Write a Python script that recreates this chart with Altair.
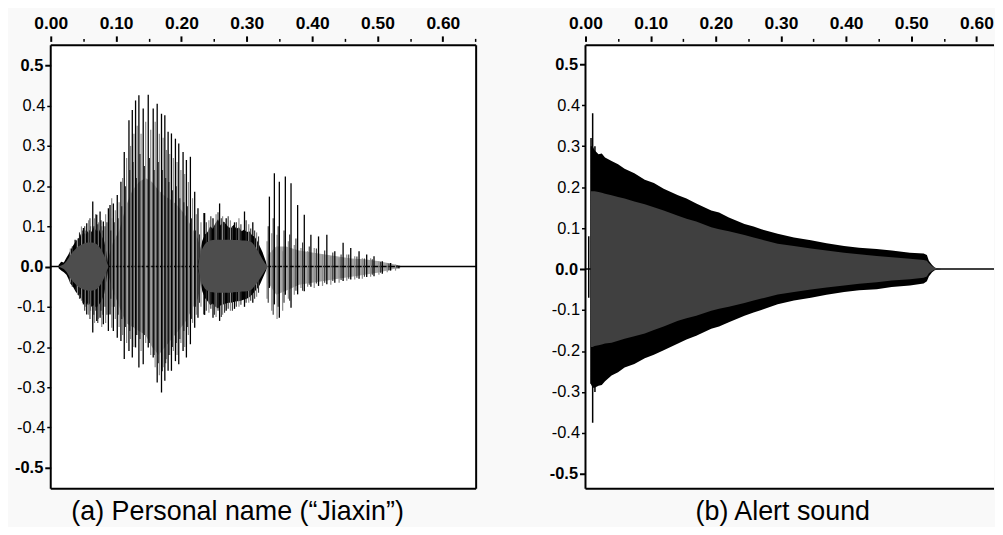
import altair as alt
import pandas as pd

FONT = "Liberation Sans"

# ---------------- Panel (a): personal name "Jiaxin" ----------------
# fricative blob 1 ("J")
B1_T = [0.012, 0.016, 0.020, 0.024, 0.027, 0.030, 0.034, 0.038, 0.042, 0.046, 0.050,
        0.054, 0.058, 0.062, 0.066, 0.070, 0.074, 0.078, 0.082, 0.085, 0.088]
B1_OUT_HI = [0.004, 0.012, 0.010, 0.022, 0.030, 0.040, 0.052, 0.062, 0.070, 0.076, 0.084,
             0.080, 0.092, 0.086, 0.098, 0.088, 0.092, 0.076, 0.062, 0.036, 0.006]
B1_OUT_LO = [-0.004, -0.010, -0.014, -0.020, -0.030, -0.042, -0.050, -0.062, -0.070, -0.080, -0.086,
             -0.094, -0.090, -0.100, -0.096, -0.102, -0.094, -0.084, -0.066, -0.036, -0.006]
B1_IN_HI = [0.000, 0.003, 0.006, 0.013, 0.021, 0.029, 0.037, 0.044, 0.050, 0.054, 0.057,
            0.059, 0.060, 0.060, 0.059, 0.056, 0.050, 0.040, 0.027, 0.013, 0.002]
B1_IN_LO = [0.000, -0.003, -0.006, -0.013, -0.021, -0.029, -0.037, -0.044, -0.050, -0.054, -0.057,
            -0.059, -0.060, -0.060, -0.059, -0.056, -0.050, -0.040, -0.027, -0.013, -0.002]

# fricative blob 3 ("x")
B3_T = [0.226, 0.229, 0.232, 0.236, 0.240, 0.244, 0.248, 0.252, 0.256, 0.260, 0.264, 0.268, 0.272, 0.276,
        0.280, 0.284, 0.288, 0.292, 0.296, 0.300, 0.304, 0.308, 0.312, 0.316, 0.320, 0.324, 0.328, 0.331]
B3_OUT_HI = [0.010, 0.045, 0.065, 0.080, 0.086, 0.100, 0.094, 0.108, 0.118, 0.102, 0.112, 0.106, 0.098, 0.096,
             0.104, 0.094, 0.098, 0.088, 0.092, 0.086, 0.088, 0.078, 0.074, 0.064, 0.050, 0.036, 0.018, 0.004]
B3_OUT_LO = [-0.010, -0.040, -0.062, -0.078, -0.086, -0.096, -0.092, -0.100, -0.104, -0.096, -0.094, -0.092, -0.090, -0.090,
             -0.088, -0.086, -0.086, -0.084, -0.082, -0.080, -0.076, -0.070, -0.062, -0.055, -0.045, -0.030, -0.015, -0.004]
B3_IN_HI = [0.005, 0.030, 0.045, 0.056, 0.062, 0.065, 0.066, 0.067, 0.067, 0.067, 0.067, 0.067, 0.067, 0.067,
            0.066, 0.066, 0.066, 0.065, 0.065, 0.064, 0.063, 0.060, 0.052, 0.042, 0.030, 0.018, 0.008, 0.002]
B3_IN_LO = [-0.005, -0.028, -0.044, -0.055, -0.060, -0.063, -0.064, -0.065, -0.065, -0.065, -0.065, -0.065, -0.065, -0.065,
            -0.064, -0.063, -0.063, -0.062, -0.062, -0.061, -0.060, -0.056, -0.048, -0.040, -0.030, -0.020, -0.010, -0.003]

# dense-oscillation core of the voiced parts ("ia" and "in")
CORE_SEG = ["v1"] * 16 + ["v2"] * 12
CORE_T = [0.088, 0.095, 0.105, 0.115, 0.125, 0.135, 0.145, 0.155, 0.165, 0.175, 0.185, 0.195, 0.205, 0.215, 0.225, 0.232,
          0.333, 0.345, 0.360, 0.380, 0.400, 0.420, 0.440, 0.460, 0.480, 0.500, 0.520, 0.535]
CORE_HI = [0.020, 0.060, 0.090, 0.150, 0.190, 0.210, 0.220, 0.210, 0.190, 0.175, 0.165, 0.150, 0.130, 0.100, 0.070, 0.030,
           0.030, 0.050, 0.050, 0.040, 0.035, 0.030, 0.025, 0.020, 0.018, 0.014, 0.008, 0.002]
CORE_LO = [-0.020, -0.060, -0.100, -0.140, -0.150, -0.160, -0.170, -0.200, -0.220, -0.200, -0.180, -0.160, -0.140, -0.110, -0.080, -0.030,
           -0.040, -0.070, -0.060, -0.045, -0.040, -0.035, -0.030, -0.025, -0.020, -0.015, -0.008, -0.002]

# black pitch spikes (time, upper peak, lower peak)
A_BLACK_T = [0.0373, 0.0450, 0.0500, 0.0551, 0.0643, 0.0704, 0.0755, 0.0805, 0.0882,
             0.0907, 0.0958, 0.1018, 0.1074, 0.1125, 0.1197, 0.1248, 0.1298, 0.1349, 0.1415,
             0.1492, 0.1568, 0.1629, 0.1695, 0.1746, 0.1796, 0.1847, 0.1908, 0.1959, 0.2025,
             0.2076, 0.2137, 0.2203, 0.2253, 0.2345,
             0.2355, 0.2483, 0.2584, 0.2685, 0.2812, 0.2965, 0.3092,
             0.3346, 0.3422, 0.3498, 0.3590, 0.3677, 0.3778, 0.3880, 0.3981, 0.4098, 0.4225,
             0.4347, 0.4474, 0.4591, 0.4718, 0.4835, 0.4947, 0.5074, 0.5201, 0.5328]
A_BLACK_HI = [0.067, 0.080, 0.096, 0.108, 0.162, 0.129, 0.137, 0.112, 0.145,
              0.153, 0.157, 0.178, 0.211, 0.285, 0.364, 0.389, 0.413, 0.426, 0.393,
              0.427, 0.393, 0.405, 0.380, 0.376, 0.335, 0.331, 0.318, 0.306, 0.285,
              0.265, 0.273, 0.186, 0.145, 0.133,
              0.133, 0.120, 0.157, 0.120, 0.110, 0.137, 0.110,
              0.174, 0.232, 0.211, 0.224, 0.207, 0.153, 0.129, 0.079, 0.075, 0.079,
              0.038, 0.059, 0.046, 0.038, 0.030, 0.026, 0.013, 0.009, 0.002]
A_BLACK_LO = [-0.052, -0.069, -0.094, -0.119, -0.164, -0.135, -0.127, -0.143, -0.160,
              -0.119, -0.160, -0.177, -0.185, -0.230, -0.210, -0.226, -0.201, -0.251, -0.243,
              -0.201, -0.226, -0.288, -0.313, -0.284, -0.259, -0.259, -0.235, -0.243, -0.210,
              -0.226, -0.193, -0.152, -0.127, -0.119,
              -0.120, -0.127, -0.135, -0.110, -0.105, -0.100, -0.090,
              -0.053, -0.094, -0.127, -0.070, -0.102, -0.069, -0.061, -0.050, -0.048, -0.044,
              -0.040, -0.036, -0.032, -0.030, -0.026, -0.024, -0.018, -0.010, -0.005]

# dark in-between oscillations
A_DARK_T = [0.033, 0.039, 0.044, 0.049, 0.052, 0.057, 0.060, 0.066, 0.069, 0.072, 0.077, 0.080, 0.083, 0.086,
            0.0920, 0.0972, 0.1032, 0.1087, 0.1143, 0.1210, 0.1261, 0.1311, 0.1366, 0.1434, 0.1511, 0.1583,
            0.1646, 0.1708, 0.1759, 0.1809, 0.1862, 0.1921, 0.1976, 0.2038, 0.2091, 0.2154, 0.2216, 0.2276,
            0.2380, 0.2450, 0.2505, 0.2560, 0.2610, 0.2660, 0.2715, 0.2780, 0.2840, 0.2910, 0.2990, 0.3060,
            0.3120, 0.3180,
            0.3328, 0.3404, 0.3480, 0.3570, 0.3656, 0.3752, 0.3854, 0.3956, 0.4065, 0.4192, 0.4316, 0.4443,
            0.4560, 0.4685, 0.4800, 0.4921, 0.5048, 0.5175, 0.5300]
A_DARK_HI = [0.050, 0.065, 0.085, 0.090, 0.100, 0.085, 0.120, 0.100, 0.130, 0.105, 0.115, 0.090, 0.100, 0.110,
             0.090, 0.110, 0.120, 0.150, 0.200, 0.240, 0.260, 0.220, 0.280, 0.250, 0.270, 0.240,
             0.260, 0.240, 0.220, 0.210, 0.190, 0.200, 0.170, 0.160, 0.150, 0.120, 0.090, 0.080,
             0.110, 0.125, 0.100, 0.135, 0.120, 0.110, 0.125, 0.100, 0.110, 0.105, 0.115, 0.095,
             0.090, 0.075,
             0.100, 0.120, 0.100, 0.090, 0.080, 0.070, 0.060, 0.050, 0.045, 0.040, 0.035, 0.030,
             0.030, 0.025, 0.020, 0.018, 0.012, 0.008, 0.004]
A_DARK_LO = [-0.050, -0.060, -0.080, -0.090, -0.110, -0.095, -0.130, -0.120, -0.110, -0.140, -0.110, -0.120, -0.100, -0.120,
             -0.080, -0.100, -0.120, -0.130, -0.150, -0.160, -0.150, -0.170, -0.180, -0.170, -0.190, -0.220,
             -0.240, -0.260, -0.240, -0.220, -0.200, -0.190, -0.180, -0.160, -0.150, -0.130, -0.100, -0.090,
             -0.110, -0.105, -0.120, -0.110, -0.125, -0.115, -0.105, -0.110, -0.100, -0.095, -0.090, -0.085,
             -0.080, -0.065,
             -0.090, -0.120, -0.100, -0.090, -0.085, -0.060, -0.060, -0.045, -0.042, -0.040, -0.036, -0.033,
             -0.030, -0.028, -0.025, -0.020, -0.015, -0.010, -0.005]

# lighter (grey) intermediate oscillations
A_GREY_T = [0.030, 0.041, 0.047, 0.053, 0.058, 0.061, 0.067, 0.073, 0.078, 0.084, 0.0933,
            0.0932, 0.0988, 0.1046, 0.1100, 0.1161, 0.1222, 0.1273, 0.1323, 0.1382, 0.1453,
            0.1530, 0.1598, 0.1662, 0.1720, 0.1771, 0.1821, 0.1877, 0.1933, 0.1992, 0.2050,
            0.2106, 0.2170, 0.2228, 0.2299,
            0.2420, 0.2530, 0.2630, 0.2750, 0.2880, 0.3030, 0.3150,
            0.3310, 0.3382, 0.3463, 0.3549, 0.3636, 0.3727, 0.3829, 0.3931, 0.4032, 0.4159,
            0.4286, 0.4413, 0.4530, 0.4652, 0.4768, 0.4895, 0.5022, 0.5149, 0.5276]
A_GREY_HI = [0.045, 0.070, 0.100, 0.090, 0.115, 0.100, 0.120, 0.110, 0.100, 0.130, 0.170,
             0.120, 0.140, 0.160, 0.220, 0.270, 0.300, 0.330, 0.350, 0.330, 0.360,
             0.340, 0.360, 0.330, 0.320, 0.290, 0.280, 0.270, 0.260, 0.240, 0.230,
             0.210, 0.170, 0.130, 0.110,
             0.115, 0.130, 0.125, 0.115, 0.120, 0.105, 0.085,
             0.063, 0.083, 0.079, 0.038, 0.063, 0.054, 0.046, 0.038, 0.046, 0.030,
             0.026, 0.021, 0.030, 0.026, 0.021, 0.021, 0.013, 0.009, 0.005]
A_GREY_LO = [-0.040, -0.070, -0.085, -0.100, -0.120, -0.110, -0.140, -0.130, -0.150, -0.140, -0.152,
             -0.100, -0.130, -0.150, -0.170, -0.190, -0.180, -0.200, -0.170, -0.210, -0.190,
             -0.220, -0.250, -0.270, -0.250, -0.230, -0.220, -0.210, -0.220, -0.190, -0.200,
             -0.170, -0.140, -0.120, -0.100,
             -0.115, -0.125, -0.120, -0.110, -0.100, -0.090, -0.075,
             -0.080, -0.110, -0.130, -0.110, -0.080, -0.070, -0.053, -0.050, -0.053, -0.048,
             -0.045, -0.040, -0.035, -0.032, -0.030, -0.025, -0.020, -0.014, -0.010]

# ---------------- Panel (b): alert sound ----------------
B_T = [0.008, 0.011, 0.014, 0.020, 0.025, 0.030, 0.040, 0.050, 0.060, 0.075, 0.091, 0.105, 0.120,
       0.142, 0.155, 0.170, 0.193, 0.205, 0.220, 0.244, 0.258, 0.270, 0.295, 0.320, 0.346, 0.370,
       0.397, 0.420, 0.447, 0.470, 0.498, 0.519, 0.524, 0.527, 0.532, 0.536, 0.541, 0.546]
B_OUT_HI = [0.300, 0.300, 0.290, 0.280, 0.282, 0.272, 0.264, 0.256, 0.245, 0.234, 0.218, 0.210, 0.196,
            0.180, 0.172, 0.160, 0.143, 0.138, 0.126, 0.110, 0.104, 0.097, 0.086, 0.077, 0.070, 0.063,
            0.056, 0.052, 0.049, 0.045, 0.040, 0.038, 0.034, 0.020, 0.010, 0.004, 0.001, 0.000]
B_OUT_LO = [-0.280, -0.290, -0.290, -0.285, -0.283, -0.274, -0.260, -0.252, -0.240, -0.232, -0.218, -0.209, -0.198,
            -0.182, -0.172, -0.163, -0.146, -0.140, -0.130, -0.114, -0.106, -0.100, -0.086, -0.077, -0.070, -0.063,
            -0.056, -0.052, -0.049, -0.044, -0.040, -0.035, -0.030, -0.018, -0.008, -0.003, -0.001, 0.000]
B_IN_HI = [0.190, 0.190, 0.190, 0.188, 0.186, 0.184, 0.180, 0.176, 0.172, 0.165, 0.158, 0.151, 0.143,
           0.130, 0.123, 0.116, 0.102, 0.097, 0.092, 0.083, 0.077, 0.072, 0.062, 0.056, 0.050, 0.045,
           0.040, 0.036, 0.032, 0.029, 0.025, 0.022, 0.020, 0.014, 0.007, 0.003, 0.001, 0.000]
B_IN_LO = [-0.190, -0.190, -0.188, -0.186, -0.184, -0.182, -0.180, -0.175, -0.170, -0.164, -0.157, -0.149, -0.140,
           -0.126, -0.120, -0.114, -0.102, -0.097, -0.092, -0.083, -0.077, -0.072, -0.062, -0.056, -0.050, -0.045,
           -0.040, -0.036, -0.032, -0.028, -0.025, -0.021, -0.018, -0.010, -0.005, -0.002, -0.001, 0.000]
B_SPIKE_T = [0.005, 0.0085, 0.011, 0.0145]
B_SPIKE_HI = [0.080, 0.320, 0.380, 0.300]
B_SPIKE_LO = [-0.070, -0.280, -0.375, -0.300]

# ---------------- axes ----------------
X_TICKS_A = [0.00, 0.05, 0.10, 0.15, 0.20, 0.25, 0.30, 0.35, 0.40, 0.45, 0.50, 0.55, 0.60, 0.65]
X_TICKS_B = [0.00, 0.05, 0.10, 0.15, 0.20, 0.25, 0.30, 0.35, 0.40, 0.45, 0.50, 0.55, 0.60]
Y_TICKS = [-0.5, -0.4, -0.3, -0.2, -0.1, 0.0, 0.1, 0.2, 0.3, 0.4, 0.5]

CAPTION_A = "(a) Personal name (\u201cJiaxin\u201d)"
CAPTION_B = "(b) Alert sound"

W_A, W_B, H = 428, 411, 446
MAJOR_X = "round(datum.value*100) % 10 == 0"
MAJOR_Y = "abs(datum.value) > 0.45 || abs(datum.value) < 0.05"


def x_axis(vals):
    return alt.Axis(
        orient="top", values=vals, title=None, grid=False, domain=False, offset=4,
        labelExpr=f"{MAJOR_X} ? format(datum.value, '.2f') : ''",
        labelFont=FONT, labelFontSize=17.5, labelFontWeight="bold", labelColor="black",
        labelPadding=3, labelFlush=False, labelOverlap=False,
        tickColor="black",
        tickSize={"condition": {"test": MAJOR_X, "value": 5.5}, "value": 3},
        tickWidth={"condition": {"test": MAJOR_X, "value": 2}, "value": 1.5},
    )


def y_axis():
    return alt.Axis(
        orient="left", values=Y_TICKS, title=None, grid=False, domain=False,
        labelExpr="(datum.value < -0.001 ? '-' : '') + format(abs(datum.value), '.1f')",
        labelFont=FONT, labelFontSize=16.5, labelColor="black", labelPadding=2,
        labelFontWeight={"condition": {"test": MAJOR_Y, "value": "bold"}, "value": "normal"},
        tickColor="black",
        tickSize={"condition": {"test": MAJOR_Y, "value": 6}, "value": 4},
        tickWidth={"condition": {"test": MAJOR_Y, "value": 2}, "value": 1.5},
    )


def panel(xdom, ydom, width, xticks, blobs, inner_color, core, rule_sets, right_border, caption, dx):
    xs = alt.Scale(domain=xdom, nice=False, zero=False)
    ys = alt.Scale(domain=ydom, nice=False, zero=False)

    def X(f):
        return alt.X(f, scale=xs, axis=x_axis(xticks))

    def Y(f):
        return alt.Y(f, scale=ys, axis=y_axis())

    one = pd.DataFrame({"k": [0]})
    layers = []
    if core is not None:
        layers.append(
            alt.Chart(core).mark_area(color="#a6a6a6", opacity=1)
            .encode(x=X("t:Q"), y=Y("hi:Q"), y2="lo:Q", detail="seg:N")
        )
    # zero line (spans the whole width)
    layers.append(
        alt.Chart(pd.DataFrame({"z": [0.0]})).mark_rule(color="black", strokeWidth=1.5)
        .encode(y=Y("z:Q"))
    )
    layers.append(
        alt.Chart(blobs).mark_area(color="black", opacity=1)
        .encode(x=X("t:Q"), y=Y("out_hi:Q"), y2="out_lo:Q", detail="seg:N")
    )
    for df, color, sw in rule_sets:
        layers.append(
            alt.Chart(df).mark_rule(color=color, strokeWidth=sw)
            .encode(x=X("t:Q"), y=Y("hi:Q"), y2="lo:Q")
        )
    layers.append(
        alt.Chart(blobs).mark_area(color=inner_color, opacity=1)
        .encode(x=X("t:Q"), y=Y("in_hi:Q"), y2="in_lo:Q", detail="seg:N")
    )
    # frame
    rule = dict(color="black", strokeWidth=2)
    layers.append(alt.Chart(one).mark_rule(**rule).encode(
        x=alt.value(0), x2=alt.value(width), y=alt.value(0)))
    layers.append(alt.Chart(one).mark_rule(**rule).encode(
        x=alt.value(0), x2=alt.value(width), y=alt.value(H)))
    layers.append(alt.Chart(one).mark_rule(**rule).encode(
        x=alt.value(0), y=alt.value(0), y2=alt.value(H)))
    if right_border:
        layers.append(alt.Chart(one).mark_rule(**rule).encode(
            x=alt.value(width), y=alt.value(0), y2=alt.value(H)))
    return alt.layer(*layers).properties(
        width=width, height=H,
        title=alt.TitleParams(caption, orient="bottom", anchor="middle", font=FONT,
                              fontSize=27, fontWeight="normal", color="black",
                              offset=10, dx=dx),
    )


blobs_a = pd.DataFrame({
    "seg": ["b1"] * len(B1_T) + ["b3"] * len(B3_T),
    "t": B1_T + B3_T,
    "out_hi": B1_OUT_HI + B3_OUT_HI, "out_lo": B1_OUT_LO + B3_OUT_LO,
    "in_hi": B1_IN_HI + B3_IN_HI, "in_lo": B1_IN_LO + B3_IN_LO,
})
core_a = pd.DataFrame({"seg": CORE_SEG, "t": CORE_T, "hi": CORE_HI, "lo": CORE_LO})
grey_a = pd.DataFrame({"t": A_GREY_T, "hi": A_GREY_HI, "lo": A_GREY_LO})
dark_a = pd.DataFrame({"t": A_DARK_T, "hi": A_DARK_HI, "lo": A_DARK_LO})
black_a = pd.DataFrame({"t": A_BLACK_T, "hi": A_BLACK_HI, "lo": A_BLACK_LO})

blobs_b = pd.DataFrame({"seg": ["s"] * len(B_T), "t": B_T,
                        "out_hi": B_OUT_HI, "out_lo": B_OUT_LO,
                        "in_hi": B_IN_HI, "in_lo": B_IN_LO})
spikes_b = pd.DataFrame({"t": B_SPIKE_T, "hi": B_SPIKE_HI, "lo": B_SPIKE_LO})

left = panel([0, 0.651], [-0.552, 0.55], W_A, X_TICKS_A, blobs_a, "#4d4d4d", core_a,
             [(grey_a, "#8c8c8c", 1.2), (dark_a, "#333333", 1.1), (black_a, "#000000", 1.3)],
             True, CAPTION_A, -26)
right = panel([0, 0.627], [-0.536, 0.546], W_B, X_TICKS_B, blobs_b, "#404040", None,
              [(spikes_b, "#000000", 1.5)],
              False, CAPTION_B, -7)

chart = alt.hconcat(left, right, spacing=72).properties(
    padding={"left": 6, "top": 5, "right": 0, "bottom": 0},
    background="#f9f9f9",
).configure_view(stroke=None, fill="white")

chart.save("out.html", embed_options={"renderer": "svg", "actions": False})
